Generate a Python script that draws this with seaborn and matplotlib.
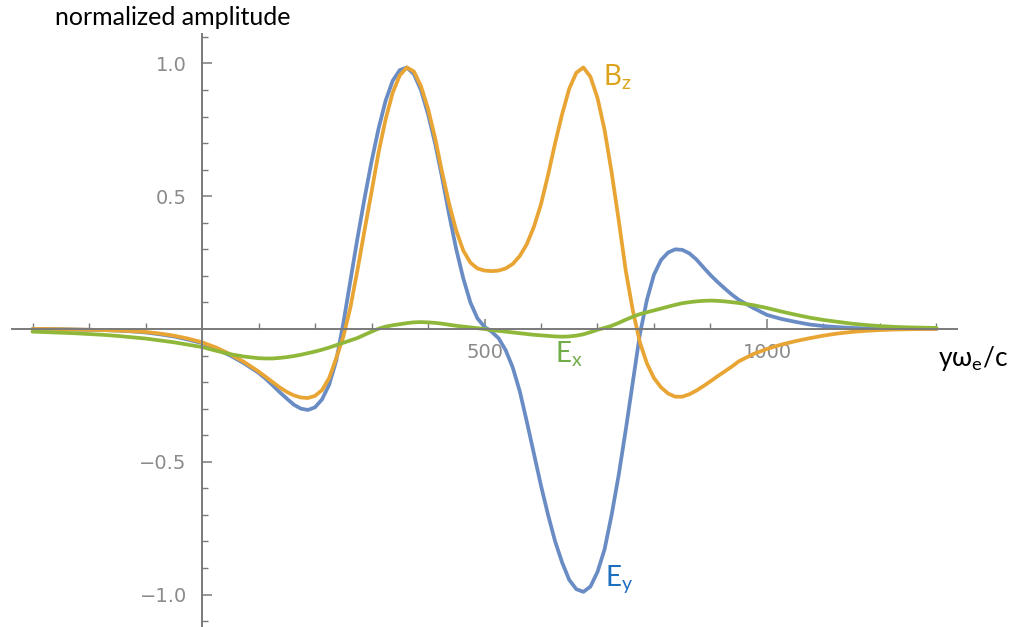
import numpy as np
import pandas as pd
import matplotlib
matplotlib.use("Agg")
import matplotlib.pyplot as plt
import matplotlib.ticker as mticker
import seaborn as sns

# ---- data ----
x_left = [-300, -275, -250, -225, -200, -175, -150, -125, -100, -75, -50, -25, 0, 25, 50, 75]
x_mid = [100 + 12.5 * i for i in range(69)]          # 100 ... 950
x_right = [975, 1000, 1025, 1050, 1075, 1100, 1125, 1150, 1175, 1200, 1225, 1250, 1275, 1300]
x_vals = x_left + x_mid + x_right

ey_vals = [
    # -300 .. 75
    0.000, 0.000, -0.001, -0.002, -0.003, -0.004, -0.006, -0.009, -0.013, -0.020,
    -0.028, -0.040, -0.053, -0.075, -0.100, -0.130,
    # 100 .. 950 (step 12.5)
    -0.165, -0.187, -0.212, -0.238, -0.262, -0.285, -0.300, -0.305, -0.295, -0.265,
    -0.210, -0.120, 0.020, 0.180, 0.340, 0.490, 0.630, 0.755, 0.860, 0.935,
    0.975, 0.985, 0.960, 0.900, 0.810, 0.700, 0.570, 0.430, 0.300, 0.190,
    0.100, 0.040, 0.008, -0.010, -0.035, -0.080, -0.145, -0.235, -0.350, -0.470,
    -0.590, -0.700, -0.800, -0.880, -0.945, -0.980, -0.990, -0.970, -0.915, -0.830,
    -0.700, -0.550, -0.380, -0.200, -0.020, 0.110, 0.205, 0.260, 0.288, 0.300,
    0.298, 0.285, 0.262, 0.232, 0.203, 0.177, 0.153, 0.130, 0.110,
    # 975 .. 1300
    0.080, 0.053, 0.038, 0.027, 0.017, 0.011, 0.007, 0.004, 0.002, 0.001,
    0.000, 0.000, 0.000, 0.000]

bz_vals = [
    0.000, 0.000, -0.001, -0.002, -0.003, -0.004, -0.006, -0.008, -0.011, -0.017,
    -0.025, -0.036, -0.050, -0.070, -0.095, -0.125,
    -0.160, -0.180, -0.200, -0.220, -0.237, -0.250, -0.258, -0.260, -0.252, -0.230,
    -0.185, -0.110, -0.030, 0.080, 0.220, 0.370, 0.515, 0.665, 0.790, 0.890,
    0.955, 0.985, 0.970, 0.915, 0.830, 0.720, 0.590, 0.470, 0.370, 0.295,
    0.250, 0.228, 0.220, 0.218, 0.220, 0.228, 0.245, 0.275, 0.320, 0.385,
    0.470, 0.580, 0.700, 0.810, 0.905, 0.965, 0.985, 0.950, 0.870, 0.750,
    0.590, 0.410, 0.220, 0.070, -0.050, -0.130, -0.185, -0.220, -0.243, -0.255,
    -0.255, -0.246, -0.232, -0.215, -0.197, -0.178, -0.160, -0.142, -0.122,
    -0.095, -0.075, -0.059, -0.046, -0.035, -0.025, -0.017, -0.011, -0.007, -0.004,
    -0.002, -0.001, 0.000, 0.000]

ex_vals = [
    -0.010, -0.012, -0.014, -0.016, -0.019, -0.022, -0.026, -0.031, -0.036, -0.043,
    -0.050, -0.059, -0.068, -0.082, -0.095, -0.104,
    -0.110, -0.111, -0.111, -0.109, -0.106, -0.102, -0.097, -0.091, -0.085, -0.078,
    -0.070, -0.061, -0.052, -0.043, -0.034, -0.022, -0.010, 0.001, 0.009, 0.014,
    0.018, 0.022, 0.025, 0.026, 0.025, 0.023, 0.020, 0.016, 0.012, 0.009,
    0.006, 0.003, 0.000, -0.004, -0.007, -0.010, -0.013, -0.016, -0.019, -0.022,
    -0.024, -0.026, -0.028, -0.029, -0.028, -0.025, -0.020, -0.012, -0.003, 0.004,
    0.012, 0.023, 0.035, 0.046, 0.056, 0.063, 0.070, 0.077, 0.084, 0.091,
    0.097, 0.101, 0.104, 0.106, 0.107, 0.106, 0.104, 0.101, 0.098,
    0.090, 0.079, 0.066, 0.054, 0.043, 0.034, 0.027, 0.020, 0.015, 0.011,
    0.008, 0.006, 0.005, 0.004]

x_major = [500, 1000]
x_major_labels = ["500", "1000"]
x_minor = [-300, -200, -100, 100, 200, 300, 400, 600, 700, 800, 900, 1100, 1200, 1300]
y_major = [-1.0, -0.5, 0.5, 1.0]
y_major_labels = ["\u22121.0", "\u22120.5", "0.5", "1.0"]
y_minor = [-1.1, -0.9, -0.8, -0.7, -0.6, -0.4, -0.3, -0.2, -0.1,
           0.1, 0.2, 0.3, 0.4, 0.6, 0.7, 0.8, 0.9, 1.1]

series_names = ["Ey", "Bz", "Ex"]
series_colors = {"Ey": "#6a8cc4", "Bz": "#e8a534", "Ex": "#8fb83a"}

n = len(x_vals)
df = pd.DataFrame({
    "x": x_vals * 3,
    "y": ey_vals + bz_vals + ex_vals,
    "series": ["Ey"] * n + ["Bz"] * n + ["Ex"] * n,
})

# ---- style ----
sns.set_style("white")
plt.rcParams["font.family"] = ["DejaVu Sans"]
label_family = ["Lato", "DejaVu Sans"]

fig = plt.figure(figsize=(10.2, 6.27), dpi=100)
ax = fig.add_axes([12 / 1020, 0.0, 945 / 1020, 593 / 627])

sns.lineplot(data=df, x="x", y="y", hue="series", hue_order=series_names,
             palette=series_colors, linewidth=2.7, legend=False, ax=ax, sort=False)

ax.set_xlim(-336.3, 1336.3)
ax.set_ylim(-1.1224, 1.111)

gray = "#8a8a8a"
axis_col = "#7a7a7a"
for side in ["top", "right"]:
    ax.spines[side].set_visible(False)
ax.spines["left"].set_position(("data", 0))
ax.spines["bottom"].set_position(("data", 0))
for side in ["left", "bottom"]:
    ax.spines[side].set_color(axis_col)
    ax.spines[side].set_linewidth(1.4)

ax.xaxis.set_major_locator(mticker.FixedLocator(x_major))
ax.xaxis.set_major_formatter(mticker.FixedFormatter(x_major_labels))
ax.xaxis.set_minor_locator(mticker.FixedLocator(x_minor))
ax.yaxis.set_major_locator(mticker.FixedLocator(y_major))
ax.yaxis.set_major_formatter(mticker.FixedFormatter(y_major_labels))
ax.yaxis.set_minor_locator(mticker.FixedLocator(y_minor))

ax.tick_params(axis="both", which="both", bottom=True, left=True, top=False, right=False)
ax.tick_params(axis="both", which="major", direction="in", length=7, width=1.1,
               color=axis_col, labelcolor=gray, labelsize=14)
ax.tick_params(axis="both", which="minor", direction="in", length=4, width=1.0,
               color=axis_col)
ax.tick_params(axis="x", which="major", pad=10)
ax.tick_params(axis="y", which="major", pad=11)

ax.set_xlabel("")
ax.set_ylabel("")

# ---- annotations ----
fig.text(55 / 1020, 1 - 25 / 627, "normalized amplitude", fontsize=18,
         color="black", ha="left", va="baseline", family=label_family)
fig.text(938 / 1020, 1 - 366 / 627, "yω$_\\mathregular{e}$/c", fontsize=19,
         color="black", ha="left", va="baseline", family=label_family)

ax.text(710, 0.95, "B$_\\mathregular{z}$", fontsize=20, color="#dba41a",
        ha="left", va="center", family=label_family)
ax.text(713, -0.945, "E$_\\mathregular{y}$", fontsize=20, color="#1f6fc0",
        ha="left", va="center", family=label_family)
ax.text(625, -0.094, "E$_\\mathregular{x}$", fontsize=20, color="#70ad47",
        ha="left", va="center", family=label_family)

fig.savefig("out.png", dpi=100)
